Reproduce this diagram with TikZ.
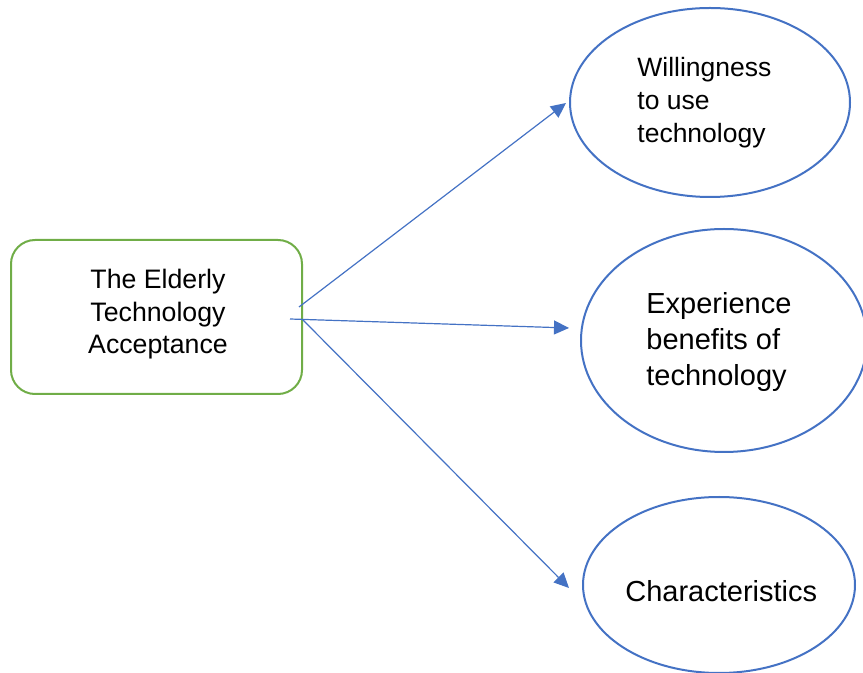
\documentclass[tikz,border=0pt]{standalone}
\usepackage{fontspec}
\setmainfont{Liberation Sans}
\usetikzlibrary{arrows.meta,shapes.geometric}
\definecolor{boxgreen}{HTML}{70AD47}
\definecolor{lineblue}{HTML}{4472C4}
\begin{document}
\begin{tikzpicture}[x=0.5pt,y=-0.5pt,
  greenbox/.style={draw=boxgreen,line width=1pt,rounded corners=12pt,minimum width=145.5pt,minimum height=77pt,inner sep=0pt},
  oval/.style={draw=lineblue,ellipse,line width=1pt,inner sep=0pt},
  conn/.style={draw=lineblue,line width=0.6pt,-{Triangle[length=7.5pt,width=7pt]}},
  lblsmall/.style={font=\fontsize{13.25}{16.5}\selectfont,align=left,inner sep=0pt},
  lblbig/.style={font=\fontsize{14.5}{18}\selectfont,align=left,inner sep=0pt}
]
\useasboundingbox (0,0) rectangle (863,673);
\node[greenbox] (box) at (156.5,317) {};
\node[font=\fontsize{13.35}{16.25}\selectfont,align=center,inner sep=0pt,anchor=base] (boxtext) at (158,354) {The Elderly\\Technology\\Acceptance};

\node[oval,minimum width=140pt,minimum height=94.5pt] (e1) at (710,102.5) {};
\node[oval,minimum width=143pt,minimum height=111.5pt] (e2) at (724,340.5) {};
\node[oval,minimum width=136pt,minimum height=88pt] (e3) at (719,585) {};

\node[lblsmall,anchor=base west] (t1) at (637,143) {Willingness\\to use\\technology};
\node[lblbig,anchor=base west] (t2) at (646,386) {Experience\\benefits of\\technology};
\node[lblbig,anchor=base west] (t3) at (625,602) {Characteristics};

\coordinate (s1) at (299,307);
\coordinate (p1) at (566,103);
\coordinate (s2) at (290,319);
\coordinate (p2) at (569,328);
\coordinate (s3) at (302,319);
\coordinate (p3) at (569,588);
\draw[conn] (s1) -- (p1);
\draw[conn] (s2) -- (p2);
\draw[conn] (s3) -- (p3);
\end{tikzpicture}
\end{document}
